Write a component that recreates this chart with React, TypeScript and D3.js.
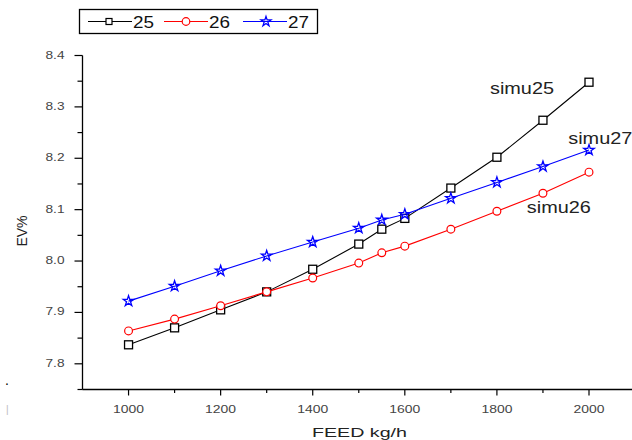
import React from "react";
import * as d3 from "d3";

const feed = [1000, 1100, 1200, 1300, 1400, 1500, 1550, 1600, 1700, 1800, 1900, 2000];
const ev25 = [7.837, 7.870, 7.905, 7.940, 7.984, 8.033, 8.062, 8.083, 8.142, 8.202, 8.274, 8.348];
const ev26 = [7.864, 7.887, 7.913, 7.940, 7.967, 7.996, 8.016, 8.029, 8.062, 8.097, 8.132, 8.173];
const ev27 = [7.922, 7.951, 7.981, 8.010, 8.037, 8.064, 8.080, 8.091, 8.122, 8.153, 8.184, 8.216];
const seriesNames = ["25", "26", "27"];
const xTicks = [1000, 1200, 1400, 1600, 1800, 2000];
const xMinor = [1100, 1300, 1500, 1700, 1900];
const yTicks = [7.8, 7.9, 8.0, 8.1, 8.2, 8.3, 8.4];
const yMinor = [7.75, 7.85, 7.95, 8.05, 8.15, 8.25, 8.35];
const annotations = [
  { text: "simu25", x: 1785, y: 8.325 },
  { text: "simu27", x: 1955, y: 8.228 },
  { text: "simu26", x: 1865, y: 8.093 },
];

const FONT = "'Liberation Sans', Arial, sans-serif";

export default function App() {
  const x = d3.scaleLinear().domain([900, 2000]).range([82.5, 589]);
  const y = d3.scaleLinear().domain([7.75, 8.4]).range([389.5, 55.5]);
  const colors = ["#000000", "#ff0000", "#0000ff"];
  const data = [ev25, ev26, ev27];
  const line = d3
    .line<number>()
    .x((_, i) => x(feed[i]))
    .y((d) => y(d));
  const star = d3.symbol().type(d3.symbolStar).size(34)() as string;
  const starSmall = d3.symbol().type(d3.symbolStar).size(30)() as string;

  const marker = (k: number, cx: number, cy: number, key: string, small = false) => {
    if (k === 0)
      return (
        <rect key={key} x={cx - 4} y={cy - 4} width={8} height={8} fill="#fff" stroke="#000" strokeWidth={1.3} />
      );
    if (k === 1)
      return <circle key={key} cx={cx} cy={cy} r={3.9} fill="#fff" stroke="#ff0000" strokeWidth={1.2} />;
    return (
      <path
        key={key}
        d={small ? starSmall : star}
        transform={`translate(${cx},${cy})`}
        fill="none"
        stroke="#0000ff"
        strokeWidth={1.3}
      />
    );
  };

  const x0 = x(900);
  const yb = y(7.75);

  return (
    <svg
      width={632}
      height={440}
      style={{ position: "absolute", left: 0, top: 0, background: "#fff" }}
      fontFamily={FONT}
    >
      <rect width={632} height={440} fill="#fff" />
      {/* axes */}
      <line x1={x0} x2={632} y1={yb} y2={yb} stroke="#000" strokeWidth={1.3} />
      <line x1={x0} x2={x0} y1={y(8.4)} y2={yb} stroke="#000" strokeWidth={1.3} />
      {xTicks.map((t) => (
        <g key={"xt" + t}>
          <line x1={x(t)} x2={x(t)} y1={yb} y2={yb + 6} stroke="#000" strokeWidth={1.2} />
          <text
            x={x(t)}
            y={yb + 23}
            textAnchor="middle"
            fontSize={10.5}
            fill="#444"
            textLength={31}
            lengthAdjust="spacingAndGlyphs"
          >
            {t}
          </text>
        </g>
      ))}
      {xMinor.map((t) => (
        <line key={"xm" + t} x1={x(t)} x2={x(t)} y1={yb} y2={yb + 3.5} stroke="#000" strokeWidth={1.2} />
      ))}
      {yTicks.map((t) => (
        <g key={"yt" + t}>
          <line x1={x0 - 8} x2={x0} y1={y(t)} y2={y(t)} stroke="#000" strokeWidth={1.2} />
          <text
            x={x0 - 37}
            y={y(t) + 3}
            fontSize={10.5}
            fill="#444"
            textLength={19}
            lengthAdjust="spacingAndGlyphs"
          >
            {t.toFixed(1)}
          </text>
        </g>
      ))}
      {yMinor.map((t) => (
        <line key={"ym" + t} x1={x0 - 5} x2={x0} y1={y(t)} y2={y(t)} stroke="#000" strokeWidth={1.2} />
      ))}
      <text
        x={312}
        y={437}
        fontSize={13}
        fill="#222"
        textLength={95}
        lengthAdjust="spacingAndGlyphs"
      >
        FEED kg/h
      </text>
      <text
        transform="translate(27,231) rotate(-90)"
        textAnchor="middle"
        fontSize={14}
        fill="#222"
      >
        EV%
      </text>
      <text x={5} y={385} fontSize={14} fill="#000">.</text>
      <text x={6} y={413} fontSize={10} fill="#bbb">|</text>

      {/* series */}
      {data.map((s, k) => (
        <g key={"s" + k}>
          <path d={line(s) as string} fill="none" stroke={colors[k]} strokeWidth={1.1} />
          {s.map((v, i) => marker(k, x(feed[i]), y(v), `m${k}-${i}`))}
        </g>
      ))}

      {annotations.map((a) => (
        <text
          key={a.text}
          x={x(a.x)}
          y={y(a.y)}
          fontSize={16}
          fill="#222"
          textLength={64}
          lengthAdjust="spacingAndGlyphs"
        >
          {a.text}
        </text>
      ))}

      {/* legend */}
      <rect x={79.5} y={9.5} width={238} height={24} fill="#fff" stroke="#000" strokeWidth={1.3} />
      {seriesNames.map((n, k) => {
        const lx = [88, 164, 243][k];
        const ly = 21.5;
        return (
          <g key={"lg" + n}>
            <line x1={lx} x2={lx + 44} y1={ly} y2={ly} stroke={colors[k]} strokeWidth={1.1} />
            {k === 0 ? (
              <rect x={lx + 18} y={ly - 3} width={6} height={6} fill="#fff" stroke="#000" strokeWidth={1.2} />
            ) : k === 1 ? (
              <circle cx={lx + 22} cy={ly} r={3.8} fill="#fff" stroke="#ff0000" strokeWidth={1.2} />
            ) : (
              marker(2, lx + 23, ly, "lgstar", true)
            )}
            <text
              x={lx + 45}
              y={ly + 6.5}
              fontSize={16.5}
              fill="#111"
              textLength={21}
              lengthAdjust="spacingAndGlyphs"
            >
              {n}
            </text>
          </g>
        );
      })}
    </svg>
  );
}
